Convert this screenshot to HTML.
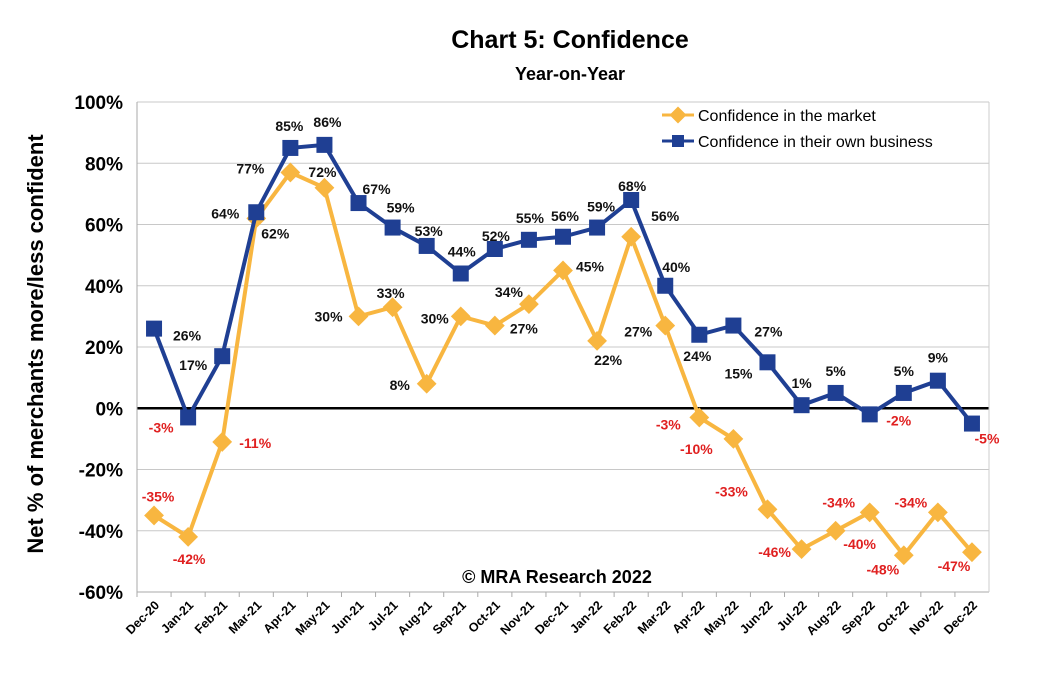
<!DOCTYPE html>
<html><head><meta charset="utf-8"><style>
body{margin:0;background:#fff;}
svg{display:block;font-family:"Liberation Sans",sans-serif;}
</style></head><body>
<svg id="c" width="1038" height="676" viewBox="0 0 1038 676" xmlns="http://www.w3.org/2000/svg">
<text x="570" y="48" text-anchor="middle" font-size="25" font-weight="bold">Chart 5: Confidence</text>
<text x="570" y="80" text-anchor="middle" font-size="18" font-weight="bold">Year-on-Year</text>
<text transform="translate(43,344) rotate(-90)" text-anchor="middle" font-size="22" font-weight="bold">Net % of merchants more/less confident</text>
<g id="grid"></g><g id="series"></g><g id="labels"></g>
<text x="557" y="583" text-anchor="middle" font-size="18" font-weight="bold">© MRA Research 2022</text>
<g>
<line x1="662" y1="115" x2="694" y2="115" stroke="#F8B640" stroke-width="3"/>
<rect x="672" y="109" width="12" height="12" transform="rotate(45 678 115)" fill="#F8B640"/>
<text x="698" y="121" font-size="16">Confidence in the market</text>
<line x1="662" y1="141" x2="694" y2="141" stroke="#1F3F93" stroke-width="3"/>
<rect x="672" y="135" width="12" height="12" fill="#1F3F93"/>
<text x="698" y="147" font-size="16">Confidence in their own business</text>
</g>
</svg>
<script>
const categories=["Dec-20","Jan-21","Feb-21","Mar-21","Apr-21","May-21","Jun-21","Jul-21","Aug-21","Sep-21","Oct-21","Nov-21","Dec-21","Jan-22","Feb-22","Mar-22","Apr-22","May-22","Jun-22","Jul-22","Aug-22","Sep-22","Oct-22","Nov-22","Dec-22"];
const marketValues=[-35,-42,-11,62,77,72,30,33,8,30,27,34,45,22,56,27,-3,-10,-33,-46,-40,-34,-48,-34,-47];
const businessValues=[26,-3,17,64,85,86,67,59,53,44,52,55,56,59,68,40,24,27,15,1,5,-2,5,9,-5];
const yTicks=[100,80,60,40,20,0,-20,-40,-60];
// label offsets (styling)
const mOff=[[4,-19],[1,22],[33,1],[19,15],[-40,-4],[-2,-16],[-30,0],[-2,-14],[-27,1],[-26,2],[29,3],[-20,-12],[27,-4],[11,19],[34,-21],[-27,6],[-31,7],[-37,10],[-36,-18],[-27,3],[24,13],[-31,-10],[-21,14],[-27,-10],[-18,14]];
const bOff=[[33,7],[-27,10],[-29,9],[-31,1],[-1,-22],[3,-23],[18,-14],[8,-20],[2,-15],[1,-22],[1,-13],[1,-22],[2,-21],[4,-21],[1,-14],[11,-19],[-2,21],[35,6],[-29,11],[0,-22],[0,-22],[29,6],[0,-22],[0,-23],[15,15]];
const NS="http://www.w3.org/2000/svg";
const L=137,R=989,T=102,B=592;
const step=(R-L)/categories.length;
const xS=i=>L+step*(i+0.5);
const yS=v=>T+(100-v)/160*(B-T);
function mk(tag,attrs,parent){const e=document.createElementNS(NS,tag);for(const k in attrs)e.setAttribute(k,attrs[k]);parent.appendChild(e);return e;}
const grid=document.getElementById('grid'),ser=document.getElementById('series'),lab=document.getElementById('labels');
yTicks.forEach(v=>{
 const g=mk('line',{x1:L,x2:R,y1:yS(v),y2:yS(v),stroke:v===0?'#000':'#c8c8c8','stroke-width':v===0?2.5:1},grid);
 
 
 const t=mk('text',{x:L-14,y:yS(v)+7,'text-anchor':'end','font-size':19,'font-weight':'bold'},grid);
 t.textContent=v+'%';
 
 
});
mk('line',{x1:L,x2:L,y1:T,y2:B,stroke:'#aaa'},grid);
mk('line',{x1:L,x2:R,y1:B,y2:B,stroke:'#aaa'},grid);
mk('line',{x1:R,x2:R,y1:T,y2:B,stroke:'#ccc'},grid);
categories.forEach((c,i)=>{
 mk('line',{x1:L+step*i,x2:L+step*i,y1:B,y2:B+5,stroke:'#aaa'},grid);
 const x=xS(i)+6,y=B+14;
 const t=mk('text',{x:x,y:y,'text-anchor':'end','font-size':12.5,'font-weight':'bold',transform:`rotate(-45 ${x} ${y})`},grid);
 t.textContent=c;
 
 
});
function drawSeries(vals,color,shape,off,name){
 const pts=vals.map((v,i)=>xS(i)+','+yS(v)).join(' ');
 const pl=mk('polyline',{points:pts,fill:'none',stroke:color,'stroke-width':4,'stroke-linejoin':'round'},ser);
 
 
 vals.forEach((v,i)=>{
  const x=xS(i),y=yS(v);let m;
  if(shape==='sq')m=mk('rect',{x:x-8,y:y-8,width:16,height:16,fill:color},ser);
  else m=mk('rect',{x:x-7,y:y-7,width:14,height:14,fill:color,transform:`rotate(45 ${x} ${y})`},ser);
  
  
  const o=off[i]||[0,-16];
  const t=mk('text',{x:x+o[0],y:y+o[1]+5,'text-anchor':'middle','font-size':14,'font-weight':'bold',fill:v<0?'#E02020':'#111'},lab);
  t.textContent=v+'%';
  
  
 });
}
drawSeries(marketValues,'#F8B640','dia',mOff,'market');
drawSeries(businessValues,'#1F3F93','sq',bOff,'business');
</script>
</body></html>
